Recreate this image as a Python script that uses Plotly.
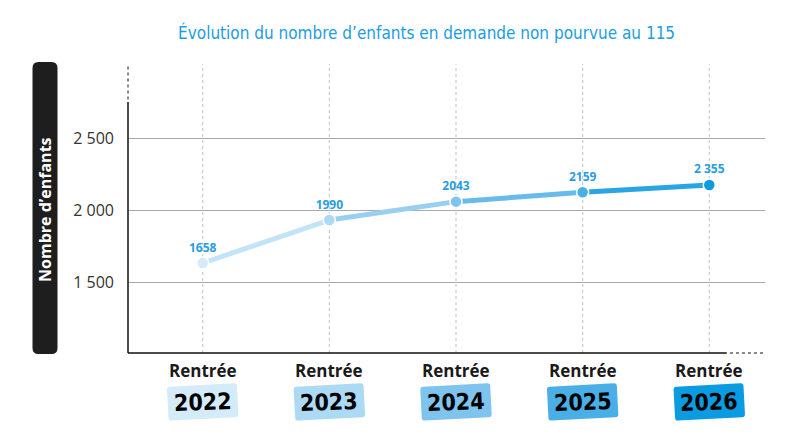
import math
import plotly.graph_objects as go

# data
years = ["2022", "2023", "2024", "2025", "2026"]
plotted = [1632, 1930, 2058, 2123, 2174]          # marker positions as drawn
labels = ["1658", "1990", "2043", "2159", "2 355"]  # printed values
point_colors = ["#d4ebf9", "#acd9f4", "#7fc4ee", "#4aafe7", "#0a9be0"]
seg_colors = ["#c3e3f7", "#99d0f2", "#69bbeb", "#2aa5e3"]
y_ticks = [1500, 2000, 2500]
y_ticktext = ["1 500", "2 000", "2 500"]

TITLE_BLUE = "#1b9de2"
COND = "DejaVu Sans Condensed, Liberation Sans Narrow, sans-serif"


def round_rect(w, h, r, angle=0.0):
    # rounded rectangle path in pixel units around (0,0), y pointing up, rotated by angle (deg)
    a = math.radians(angle)
    ca, sa = math.cos(a), math.sin(a)

    def p(px, py):
        return f"{px * ca - py * sa:.2f},{px * sa + py * ca:.2f}"

    hw, hh = w / 2, h / 2
    return (f"M{p(-hw + r, -hh)} L{p(hw - r, -hh)} Q{p(hw, -hh)} {p(hw, -hh + r)} "
            f"L{p(hw, hh - r)} Q{p(hw, hh)} {p(hw - r, hh)} "
            f"L{p(-hw + r, hh)} Q{p(-hw, hh)} {p(-hw, hh - r)} "
            f"L{p(-hw, -hh + r)} Q{p(-hw, -hh)} {p(-hw + r, -hh)} Z")


x = list(range(len(years)))

fig = go.Figure()

# line, one segment per colour
for i in range(len(x) - 1):
    fig.add_trace(go.Scatter(
        x=[x[i], x[i + 1]], y=[plotted[i], plotted[i + 1]],
        mode="lines", line=dict(color=seg_colors[i], width=5),
        hoverinfo="skip", showlegend=False))

fig.add_trace(go.Scatter(
    x=x, y=plotted, mode="markers+text",
    marker=dict(size=12, color=point_colors, line=dict(color="white", width=1.5)),
    text=labels, textposition="top center",
    textfont=dict(family="Open Sans", size=12, color="#2a9de0", weight="bold"),
    showlegend=False))

shapes = []
# vertical dotted guides, running a bit above the plot
for i in x:
    shapes.append(dict(type="line", xref="x", yref="paper", x0=i, x1=i, y0=0, y1=1.15,
                       line=dict(color="#cccccc", width=1.2, dash="dot"), layer="below"))
# axes
shapes.append(dict(type="line", xref="paper", yref="paper", x0=0, x1=0, y0=0, y1=1,
                   line=dict(color="#111", width=1.5)))
shapes.append(dict(type="line", xref="paper", yref="paper", x0=0, x1=0, y0=1.01, y1=1.15,
                   line=dict(color="#111", width=1, dash="dot")))
shapes.append(dict(type="line", xref="paper", yref="paper", x0=0, x1=0.94, y0=0, y1=0,
                   line=dict(color="#111", width=1.5)))
shapes.append(dict(type="line", xref="paper", yref="paper", x0=0.945, x1=1.0, y0=0, y1=0,
                   line=dict(color="#111", width=1, dash="dot")))
# y title pill
shapes.append(dict(type="path", xref="paper", yref="paper", xsizemode="pixel", ysizemode="pixel",
                   xanchor=-0.1303, yanchor=0.578, path=round_rect(25, 292, 6),
                   fillcolor="#1e1e1e", line=dict(width=0), layer="below"))

annotations = [dict(text="Nombre d’enfants", xref="paper", yref="paper", x=-0.1303, y=0.574,
                    xanchor="center", yanchor="middle", textangle=-90, showarrow=False,
                    font=dict(family="Open Sans", size=16, color="white", weight="bold"))]

# year tags under the axis
for i, yr in enumerate(years):
    shapes.append(dict(type="path", xref="x", yref="paper", xsizemode="pixel", ysizemode="pixel",
                       xanchor=i, yanchor=-0.195, path=round_rect(70, 34, 3, angle=3),
                       fillcolor=point_colors[i], line=dict(width=0)))
    annotations.append(dict(text="Rentrée", xref="x", yref="paper", x=i, y=-0.068,
                            xanchor="center", yanchor="middle", showarrow=False,
                            font=dict(family="Open Sans", size=17, color="#1a1a1a", weight="bold")))
    annotations.append(dict(text=yr, xref="x", yref="paper", x=i, y=-0.197,
                            xanchor="center", yanchor="middle", showarrow=False, textangle=-2,
                            font=dict(family=COND, size=23, color="#000", weight="bold")))

fig.update_layout(
    width=805, height=442,
    margin=dict(l=120, r=48, t=94, b=97),
    paper_bgcolor="white", plot_bgcolor="white",
    title=dict(text="Évolution du nombre d’enfants en demande non pourvue au 115",
               x=0.52, xanchor="center", y=0.943, yanchor="middle",
               font=dict(family=COND, size=17, color=TITLE_BLUE)),
    shapes=shapes, annotations=annotations,
    xaxis=dict(range=[-0.59, 4.44], showgrid=False, zeroline=False, showticklabels=False,
               showline=False),
    yaxis=dict(range=[1007, 2750], tickvals=y_ticks, ticktext=y_ticktext, showgrid=True,
               gridcolor="#aaaaaa", gridwidth=1, zeroline=False, showline=False,
               tickfont=dict(family="Open Sans", size=16, color="#333"), ticklabelstandoff=13),
    font=dict(family="Open Sans"),
)

fig.write_html("out.html")
